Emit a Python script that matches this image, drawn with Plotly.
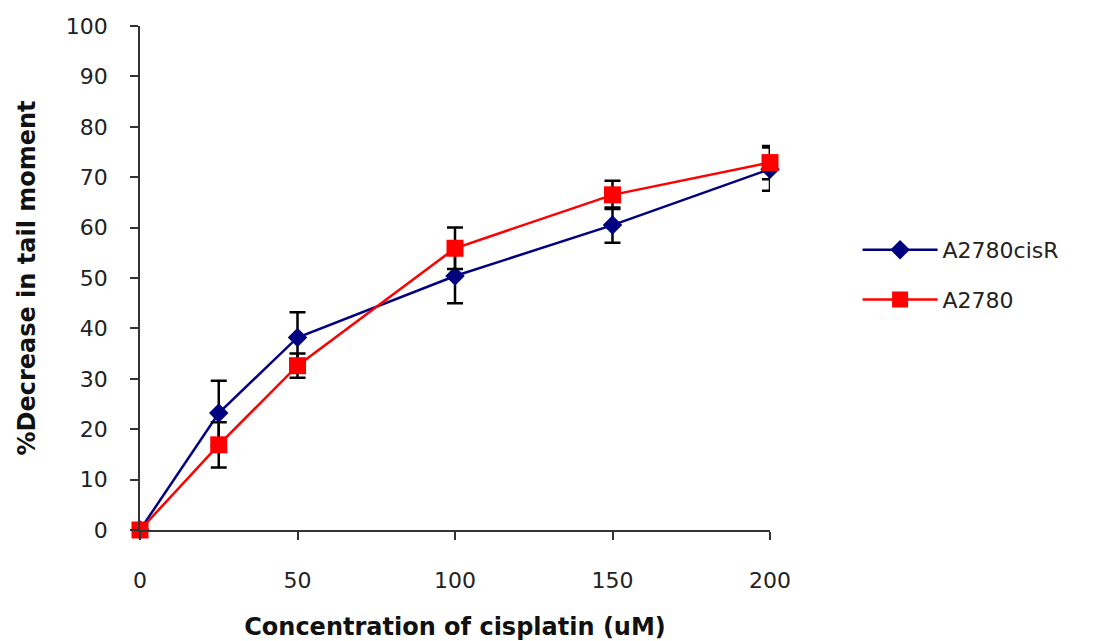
import plotly.graph_objects as go

# Cisplatin concentration (uM)
conc = [0, 25, 50, 100, 150, 200]

# % decrease in tail moment with SD
cisr_mean = [0, 23.2, 38.2, 50.4, 60.5, 71.6]
cisr_err = [0, 6.4, 5.0, 5.4, 3.5, 4.3]

a2780_mean = [0, 16.9, 32.6, 55.9, 66.5, 72.9]
a2780_err = [0, 4.5, 2.4, 4.1, 2.8, 3.3]

y_ticks = list(range(0, 101, 10))
x_ticks = [0, 50, 100, 150, 200]

FONT = "DejaVu Sans"

fig = go.Figure()

fig.add_trace(go.Scatter(
    x=conc, y=cisr_mean, name="A2780cisR", mode="lines+markers",
    line=dict(color="#000080", width=2.5),
    marker=dict(symbol="diamond", size=15, color="#000080"),
    error_y=dict(type="data", array=cisr_err, color="black", thickness=2.5, width=8),
    cliponaxis=False, legendgroup="a",
))
fig.add_trace(go.Scatter(
    x=conc, y=a2780_mean, name="A2780", mode="lines+markers",
    line=dict(color="#FF0000", width=2.5),
    marker=dict(symbol="square", size=17, color="#FF0000"),
    error_y=dict(type="data", array=a2780_err, color="black", thickness=2.5, width=8),
    cliponaxis=False, legendgroup="b",
))

fig.update_layout(
    width=1095, height=641,
    margin=dict(l=140, r=325, t=26, b=111),
    paper_bgcolor="white", plot_bgcolor="white",
    font=dict(family=FONT, size=22, color="#222"),
    showlegend=True,
    legend=dict(
        x=1.139, y=0.506, xanchor="left", yanchor="middle",
        font=dict(family=FONT, size=22, color="#222"),
        tracegroupgap=18, traceorder="grouped", itemwidth=75,
        bgcolor="rgba(0,0,0,0)",
    ),
    xaxis=dict(
        range=[0, 200], tickvals=x_ticks, ticks="outside", ticklen=8,
        tickwidth=1.5, tickcolor="#333", showline=True, linecolor="#333",
        linewidth=1.5, showgrid=False, zeroline=False, automargin=False,
        ticklabelstandoff=22,
        title=dict(text="<b>Concentration of cisplatin (uM)</b>",
                   font=dict(family=FONT, size=24, color="#111"), standoff=26),
    ),
    yaxis=dict(
        range=[0, 100], tickvals=y_ticks, ticks="outside", ticklen=8,
        tickwidth=1.5, tickcolor="#333", showline=True, linecolor="#333",
        linewidth=1.5, showgrid=False, zeroline=False, automargin=False,
        ticklabelstandoff=18,
        title=dict(text="<b>%Decrease in tail moment</b>",
                   font=dict(family=FONT, size=24, color="#111"), standoff=23),
    ),
)

fig.write_html("out.html")
